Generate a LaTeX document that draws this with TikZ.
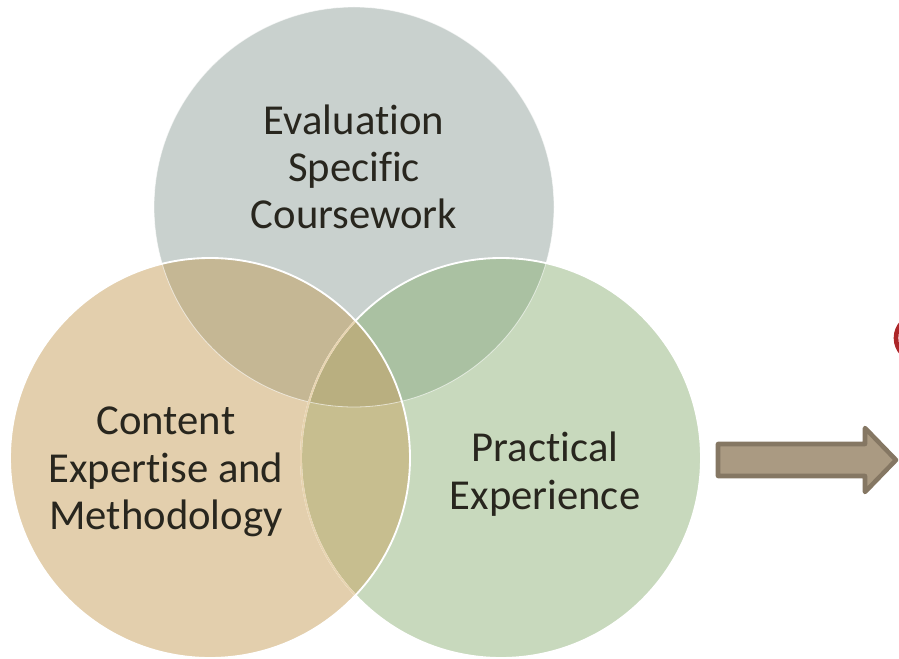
\documentclass[tikz,border=0pt]{standalone}
\usepackage{fontspec}
\setmainfont{Carlito}[Ligatures=NoCommon]
\usepackage{tikz}
\definecolor{evalgrey}{RGB}{201,209,206}
\definecolor{contenttan}{RGB}{227,207,173}
\definecolor{practgreen}{RGB}{200,217,189}
\definecolor{greytan}{RGB}{197,183,148}
\definecolor{greygreen}{RGB}{170,193,162}
\definecolor{tangreen}{RGB}{199,190,143}
\definecolor{allthree}{RGB}{185,175,128}
\definecolor{tanedge}{RGB}{232,212,176}
\definecolor{arrowfill}{RGB}{170,154,130}
\definecolor{arrowline}{RGB}{133,119,99}
\definecolor{txtdark}{RGB}{40,38,30}
\definecolor{cutred}{RGB}{172,38,40}
\tikzset{
  ring/.style={circle, inner sep=0pt, minimum size=300pt},
  lbl/.style={align=center, font=\fontsize{32}{35.5}\selectfont, text=txtdark, inner sep=0.75pt},
  rim/.style={white, line width=1.4pt}
}

\begin{document}
\begin{tikzpicture}[x=0.75pt,y=0.75pt,yscale=-1,xscale=1]
\useasboundingbox (0,0) rectangle (899,659);

%Shape: Circle [grey, top]
\node [ring, fill=evalgrey] (evalc) at (354,207) {};
%Shape: Circle [green, right]
\node [ring, fill=practgreen] (practc) at (501,458) {};
%Shape: Circle [tan, left]
\node [ring, fill=contenttan] (contentc) at (210,458) {};

%Overlaps
\begin{scope}
\clip (evalc.center) circle [radius=200];
\fill [greytan] (contentc.center) circle [radius=200];
\fill [greygreen] (practc.center) circle [radius=200];
\end{scope}
\begin{scope}
\clip (contentc.center) circle [radius=200];
\fill [tangreen] (practc.center) circle [radius=200];
\clip (evalc.center) circle [radius=200];
\fill [allthree] (practc.center) circle [radius=200];
\end{scope}

%Rims
\draw [white, line width=0.6pt, opacity=0.6] (evalc.center) circle [radius=200];
\draw [rim] (practc.center) circle [radius=200];
\begin{scope}
\clip (contentc.center) circle [radius=200];
\draw [tanedge, line width=1.4pt] (practc.center) circle [radius=200];
\end{scope}
\draw [rim] (contentc.center) circle [radius=200];

% Text Node
\node [lbl] (evalt) at (354,167) {Evaluation\\Specific\\Coursework};
% Text Node
\node [lbl] (contentt) at (166,472) {Content\\Expertise and\\Methodology};
% Text Node
\node [lbl] (practt) at (545,474) {Practical\\Experience};

%Shape: Right Arrow
\draw [fill=arrowfill, draw=arrowline, line width=3.4pt, line join=round]
  (718,444) -- (865,444) -- (865,428) -- (896,460) -- (865,492) -- (865,476) -- (718,476) -- cycle ;

%Shape: cut-off red ring at the edge
\begin{scope}
\clip (0,0) rectangle (899,659);
\draw [cutred, line width=3.5pt] (917,338) ellipse [x radius=21, y radius=22];
\end{scope}

\end{tikzpicture}
\end{document}
